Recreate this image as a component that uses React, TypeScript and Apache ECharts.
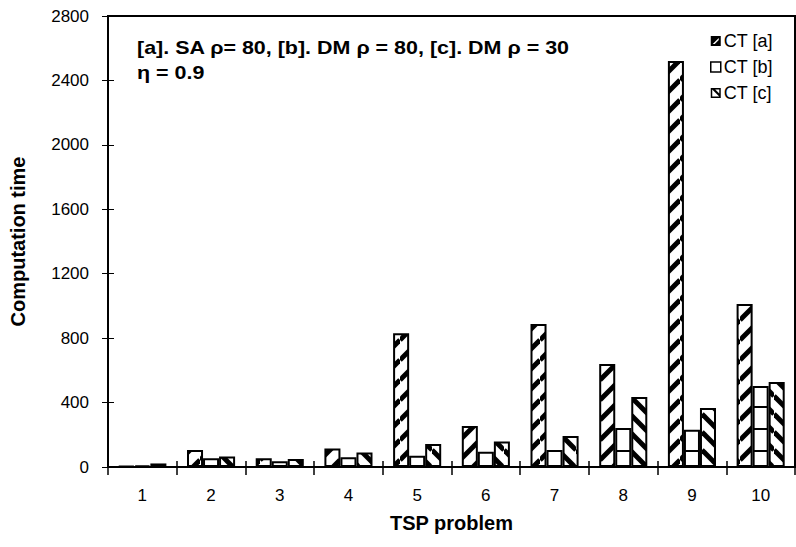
import React, { useEffect, useRef } from 'react';
import * as echarts from 'echarts';

const categories = ['1', '2', '3', '4', '5', '6', '7', '8', '9', '10'];
const ctA = [5, 105, 55, 115, 830, 255, 888, 640, 2520, 1012];
const ctB = [10, 55, 35, 60, 70, 95, 105, 242, 232, 503];
const ctC = [22, 65, 50, 90, 143, 158, 193, 435, 366, 528];
const seriesNames = ['CT [a]', 'CT [b]', 'CT [c]'];
const yMin = 0;
const yMax = 2800;
const yInterval = 400;
const xTitle = 'TSP problem';
const yTitle = 'Computation time';
const noteLine1 = '[a]. SA ρ= 80, [b]. DM ρ = 80, [c]. DM ρ = 30';
const noteLine2 = 'η = 0.9';

const FONT = '"Liberation Sans", Arial, Helvetica, sans-serif';

function diagPattern(dir: number, w: number, h: number, lw: number) {
  const c = document.createElement('canvas');
  c.width = w;
  c.height = h;
  const ctx = c.getContext('2d')!;
  ctx.fillStyle = '#fff';
  ctx.fillRect(0, 0, w, h);
  ctx.strokeStyle = '#000';
  ctx.lineWidth = lw;
  for (let k = -1; k <= 1; k++) {
    ctx.beginPath();
    if (dir > 0) {
      ctx.moveTo(0, h + k * h);
      ctx.lineTo(w, k * h);
    } else {
      ctx.moveTo(0, k * h);
      ctx.lineTo(w, h + k * h);
    }
    ctx.stroke();
  }
  return { image: c, repeat: 'repeat', imageWidth: w, imageHeight: h } as any;
}

function hLinePattern(period: number, offset: number, lw: number) {
  const c = document.createElement('canvas');
  c.width = 4;
  c.height = period;
  const ctx = c.getContext('2d')!;
  ctx.fillStyle = '#fff';
  ctx.fillRect(0, 0, 4, period);
  ctx.fillStyle = '#000';
  ctx.fillRect(0, offset, 4, lw);
  return { image: c, repeat: 'repeat', imageWidth: 4, imageHeight: period } as any;
}

// legend icon shapes (10x10 boxes)
const ICON_A = 'path://M0,0 L10,0 L10,10 L0,10 Z M2,8 L4,8 L8,4 L8,2 Z';
const ICON_B = 'rect';
const ICON_C = 'path://M0,0 L10,0 L10,10 L0,10 Z M1.5,1.5 L1.5,8.5 L8.5,8.5 L8.5,1.5 Z M1.5,1.5 L4.5,1.5 L8.5,5.5 L8.5,8.5 Z';

export default function App() {
  const ref = useRef<HTMLDivElement>(null);
  useEffect(() => {
    document.body.style.margin = '0';
    const chart = echarts.init(ref.current!, undefined, { renderer: 'svg' });
    const patA = diagPattern(1, 20, 20, 5);
    const patB = hLinePattern(22, 10, 2);
    const patC = diagPattern(-1, 18, 18, 5);
    const barStyle = (color: any) => ({ color, borderColor: '#000', borderWidth: 2 });
    chart.setOption({
      animation: false,
      backgroundColor: '#fff',
      textStyle: { fontFamily: FONT, color: '#000' },
      grid: {
        left: 107,
        right: 1,
        top: 16,
        bottom: 80,
        show: true,
        borderColor: '#000',
        borderWidth: 2,
        backgroundColor: 'transparent',
      },
      legend: {
        orient: 'vertical',
        left: 705,
        top: 26,
        itemWidth: 10,
        itemHeight: 10,
        itemGap: 6,
        data: [
          { name: seriesNames[0], icon: ICON_A, itemStyle: { color: '#000', borderWidth: 0 } },
          { name: seriesNames[1], icon: ICON_B, itemStyle: { color: '#fff', borderColor: '#000', borderWidth: 1.5 } },
          { name: seriesNames[2], icon: ICON_C, itemStyle: { color: '#000', borderWidth: 0 } },
        ],
        textStyle: { fontFamily: FONT, fontSize: 18, color: '#000', lineHeight: 20, padding: [0, 0, 0, -2] },
      },
      xAxis: [
        {
          type: 'category',
          data: categories,
          position: 'bottom',
          name: xTitle,
          nameLocation: 'middle',
          nameGap: 46,
          nameTextStyle: { fontFamily: FONT, fontSize: 20, fontWeight: 'bold', color: '#000' },
          axisLine: { show: true, lineStyle: { color: '#000', width: 2 } },
          axisTick: { show: true, length: 8, lineStyle: { color: '#000', width: 1.5 } },
          axisLabel: { fontFamily: FONT, fontSize: 17, color: '#000', margin: 20 },
          splitLine: { show: false },
        },
        {
          type: 'category',
          data: categories,
          position: 'bottom',
          axisLine: { show: false },
          axisTick: { show: true, inside: true, length: 6, lineStyle: { color: '#000', width: 1.5 } },
          axisLabel: { show: false },
          splitLine: { show: false },
        },
      ],
      yAxis: [
        {
          type: 'value',
          min: yMin,
          max: yMax,
          interval: yInterval,
          position: 'left',
          name: yTitle,
          nameLocation: 'middle',
          nameGap: 80,
          nameTextStyle: { fontFamily: FONT, fontSize: 20, fontWeight: 'bold', color: '#000' },
          axisLine: { show: true, lineStyle: { color: '#000', width: 2 } },
          axisTick: { show: true, length: 6, lineStyle: { color: '#000', width: 1 } },
          axisLabel: { fontFamily: FONT, fontSize: 17, color: '#000', margin: 19, formatter: (v: number) => String(v) },
          splitLine: { show: false },
        },
        {
          type: 'value',
          min: yMin,
          max: yMax,
          interval: yInterval,
          position: 'left',
          axisLine: { show: false },
          axisTick: { show: true, inside: true, length: 6, lineStyle: { color: '#000', width: 1 } },
          axisLabel: { show: false },
          splitLine: { show: false },
        },
      ],
      series: [
        {
          name: seriesNames[0],
          type: 'bar',
          data: ctA,
          barGap: '0%',
          barCategoryGap: '30%',
          itemStyle: barStyle(patA),
        },
        {
          name: seriesNames[1],
          type: 'bar',
          data: ctB,
          barGap: '0%',
          barCategoryGap: '30%',
          itemStyle: barStyle(patB),
        },
        {
          name: seriesNames[2],
          type: 'bar',
          data: ctC,
          barGap: '0%',
          barCategoryGap: '30%',
          itemStyle: barStyle(patC),
        },
      ],
      graphic: [
        {
          type: 'text',
          x: 137,
          y: 38,
          scaleX: 1.13,
          style: { text: noteLine1, fontFamily: FONT, fontSize: 19, fontWeight: 'bold', fill: '#000' },
        },
        {
          type: 'text',
          x: 137,
          y: 63,
          scaleX: 1.13,
          style: { text: noteLine2, fontFamily: FONT, fontSize: 19, fontWeight: 'bold', fill: '#000' },
        },
      ],
    });
    return () => chart.dispose();
  }, []);
  return <div ref={ref} style={{ width: 796, height: 547 }} />;
}
